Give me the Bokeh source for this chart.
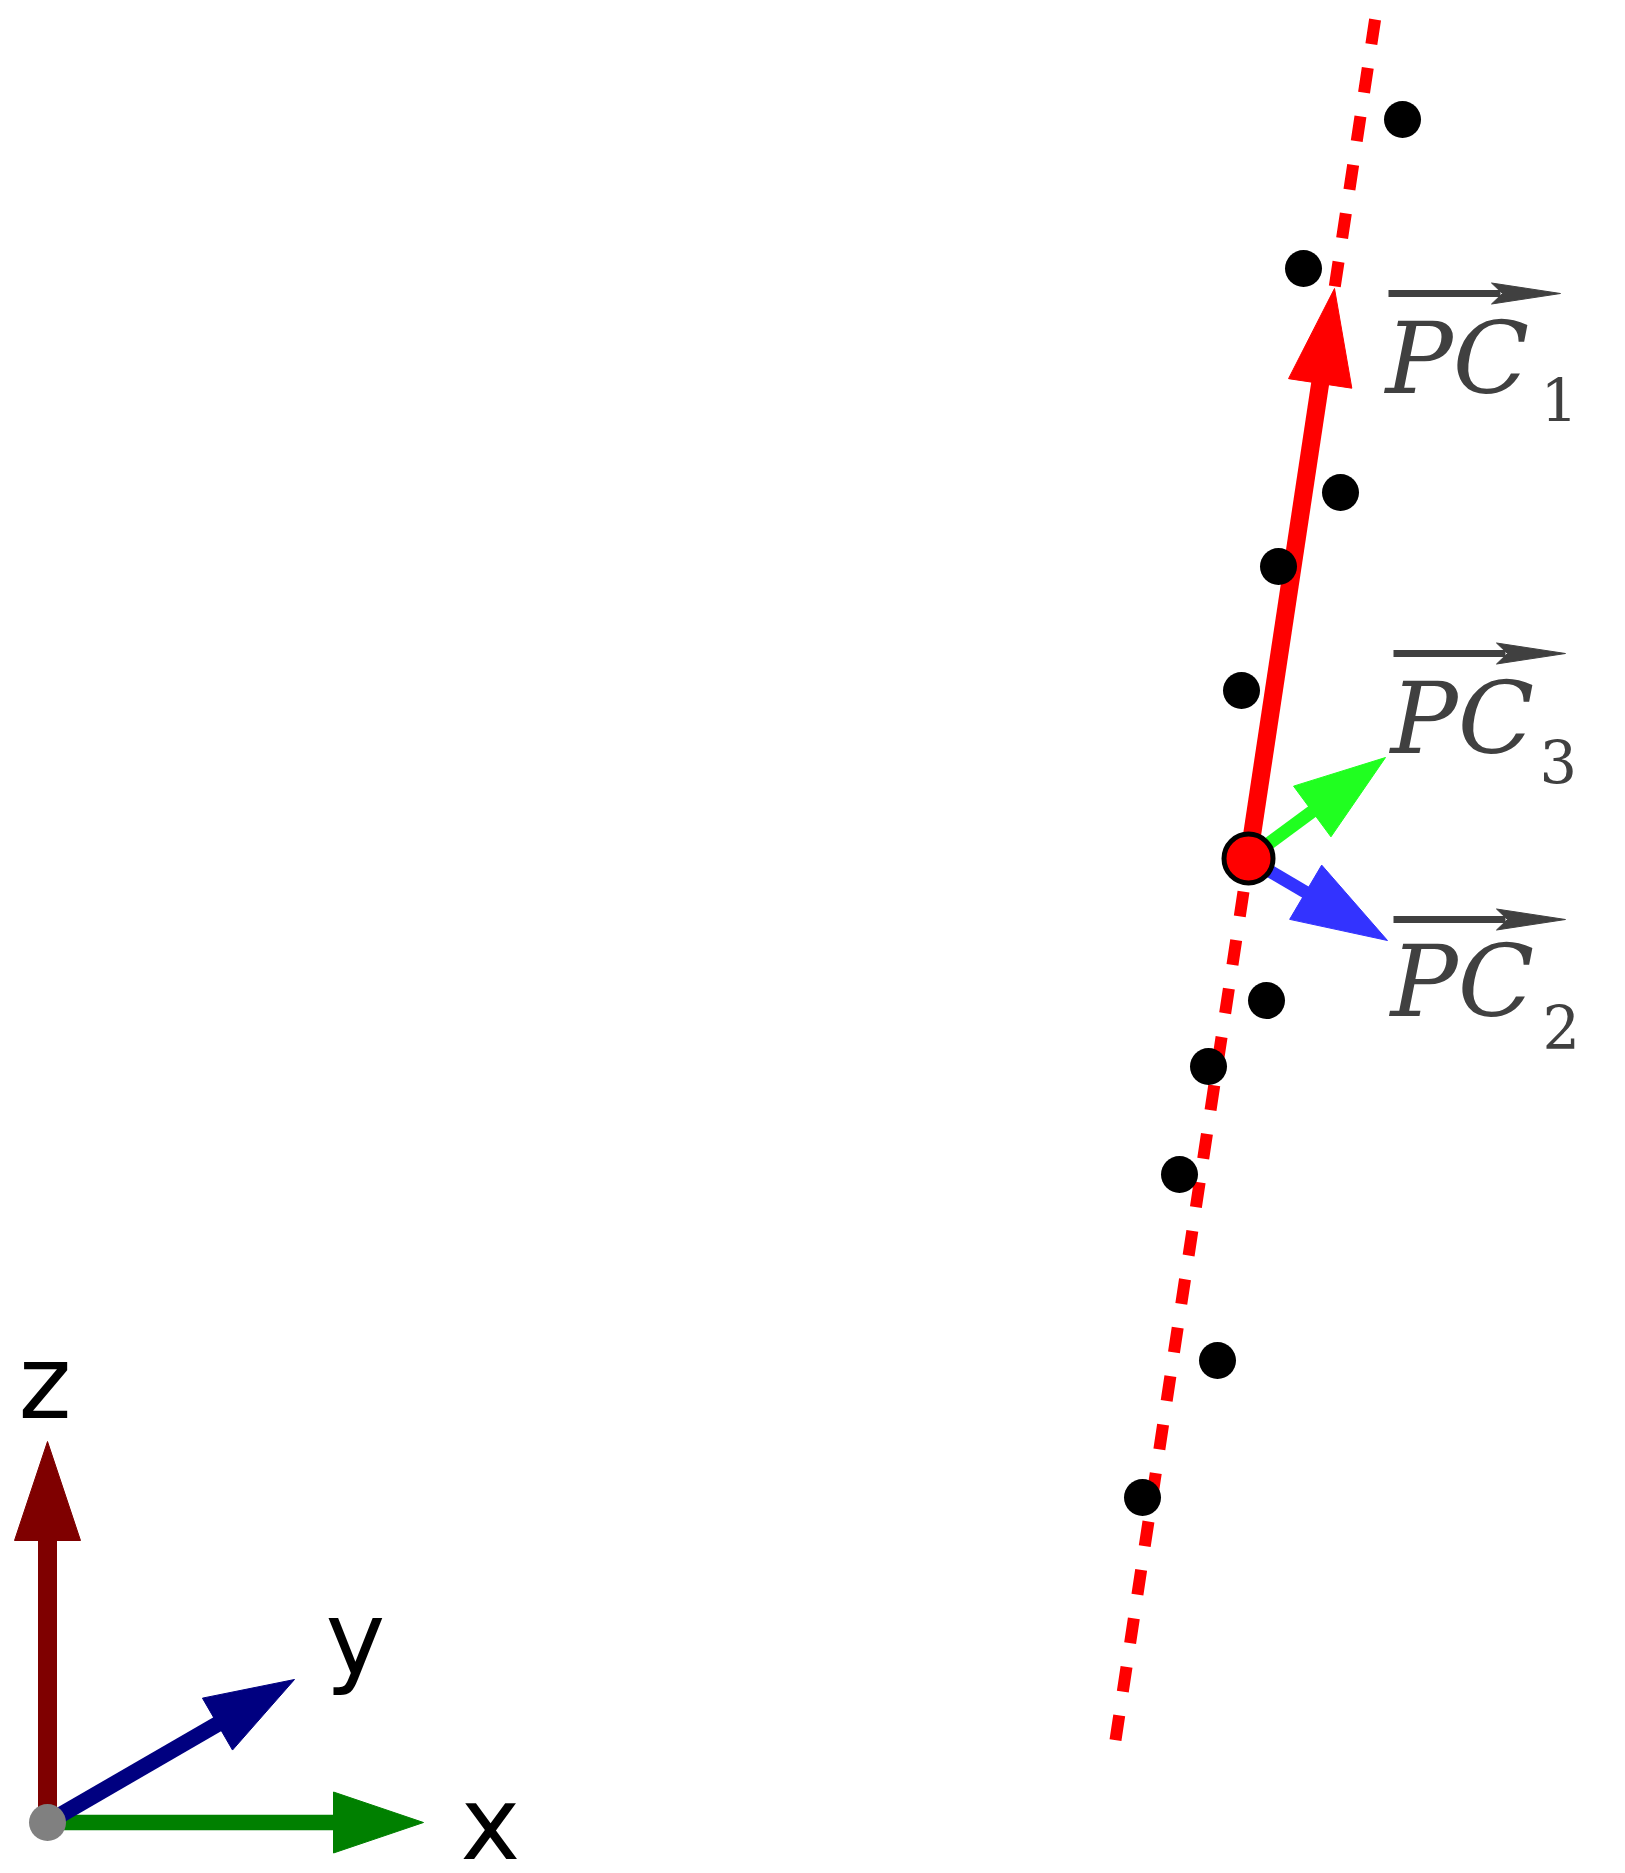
import numpy as np
from bokeh.plotting import figure
from bokeh.models import Range1d
from bokeh.core.properties import value
from bokeh.embed import file_html
from bokeh.resources import INLINE

# ---- data (screen-like coordinates, y grows downward) ----
# sample points
pts_x = [1402, 1303, 1340, 1278, 1241, 1266, 1208, 1179, 1217, 1142]
pts_y = [119, 268, 492, 566, 690, 1000, 1066, 1174, 1360, 1497]

# PCA centre and principal component tips
center_x, center_y = 1248, 858
pc_names = ["1", "2", "3"]
pc_tip_x = [1334, 1387, 1385]
pc_tip_y = [288, 940, 757]
pc_colors = ["#ff0000", "#3333ff", "#20ff20"]
pc_shaft_w = [18, 13, 13]
pc_head_len = [96, 95, 91]
pc_head_w = [64, 63, 63]

# PC1 axis (dashed) extent
axis_top_y, axis_bottom_y = 19, 1763

# PC labels: "PC" (left, baseline) and subscript (left, baseline)
lab_x = [1385, 1390, 1390]
lab_y = [395, 1018, 755]
lab_main = ["PC", "PC", "PC"]
sub_x = [1540, 1542, 1539]
sub_y = [420, 1047, 782]
lab_sub = ["1", "2", "3"]
vec_y = [293, 919, 653]

# coordinate triad
tri_origin_x, tri_origin_y = 47, 1822
tri_names = ["x", "y", "z"]
tri_tip_x = [423, 294, 47]
tri_tip_y = [1822, 1679, 1441]
tri_colors = ["#008000", "#000080", "#7f0000"]
tri_shaft_w = [15.5, 16, 19]
tri_head_len = [90, 89, 99]
tri_head_w = [61, 60, 66]
tri_lab_x = [460, 325, 18]
tri_lab_y = [1859, 1674, 1418]

W, H = 1625, 1873
p = figure(width=W, height=H, x_range=Range1d(0, W), y_range=Range1d(H, 0),
           output_backend="svg", toolbar_location=None, min_border=0,
           background_fill_color="white", border_fill_color="white")
p.axis.visible = False
p.xgrid.visible = False
p.ygrid.visible = False
p.outline_line_color = None


def arrows(x0, y0, tx, ty, colors, ws, hl, hw):
    for i in range(len(tx)):
        d = np.array([tx[i] - x0, ty[i] - y0], float)
        u = d / np.hypot(*d)
        n = np.array([-u[1], u[0]])
        base = np.array([tx[i], ty[i]]) - u * hl[i]
        p.line([x0, base[0] + u[0] * 2], [y0, base[1] + u[1] * 2], line_color=colors[i],
               line_width=ws[i], line_cap="butt")
        b1 = base + n * hw[i] / 2
        b2 = base - n * hw[i] / 2
        p.patch([tx[i], b1[0], b2[0]], [ty[i], b1[1], b2[1]], fill_color=colors[i],
                line_color=colors[i], line_width=1)


# dashed PC1 axis
dx = (pc_tip_x[0] - center_x) / (pc_tip_y[0] - center_y)
p.line([center_x + dx * (axis_top_y - center_y), center_x + dx * (axis_bottom_y - center_y)],
       [axis_top_y, axis_bottom_y], line_color="#ff0000", line_width=12,
       line_dash="25 24", line_cap="butt")

# PC arrows
arrows(center_x, center_y, pc_tip_x, pc_tip_y, pc_colors, pc_shaft_w, pc_head_len, pc_head_w)

# sample points
p.circle(pts_x, pts_y, radius=18.5, fill_color="black", line_color=None)

# centre point
p.circle([center_x], [center_y], radius=24.5, fill_color="#ff0000", line_color="black",
         line_width=5)

# PC labels (text glyph baseline correction for rendered position)
lab_col = "#404040"
p.text(lab_x, [y - 37 for y in lab_y], text=lab_main, text_font=value("DejaVu Serif"),
       text_font_style="italic", text_font_size="100px", text_color=lab_col,
       text_baseline="alphabetic", text_align="left")
p.text(sub_x, [y - 21 for y in sub_y], text=lab_sub,
       text_font=value("DejaVu Serif"), text_font_size="59px", text_color=lab_col,
       text_baseline="alphabetic", text_align="left")
for x, ay in zip(lab_x, vec_y):
    x0, x1 = x + 3, x + 175
    p.line([x0, x1 - 60], [ay, ay], line_color=lab_col, line_width=7, line_cap="butt")
    p.patch([x1, x1 - 69, x1 - 58, x1 - 69], [ay, ay - 10.5, ay, ay + 10.5],
            fill_color=lab_col, line_color=lab_col, line_width=1)

# triad
arrows(tri_origin_x, tri_origin_y, tri_tip_x, tri_tip_y, tri_colors, tri_shaft_w,
       tri_head_len, tri_head_w)
p.circle([tri_origin_x], [tri_origin_y], radius=18.5, fill_color="#808080", line_color=None)
p.text(tri_lab_x, [y - 36 for y in tri_lab_y], text=tri_names, text_font=value("DejaVu Sans"),
       text_font_style="normal", text_font_size="101px", text_color="black",
       text_baseline="alphabetic", text_align="left")

open("out.html", "w").write(file_html(p, INLINE))
